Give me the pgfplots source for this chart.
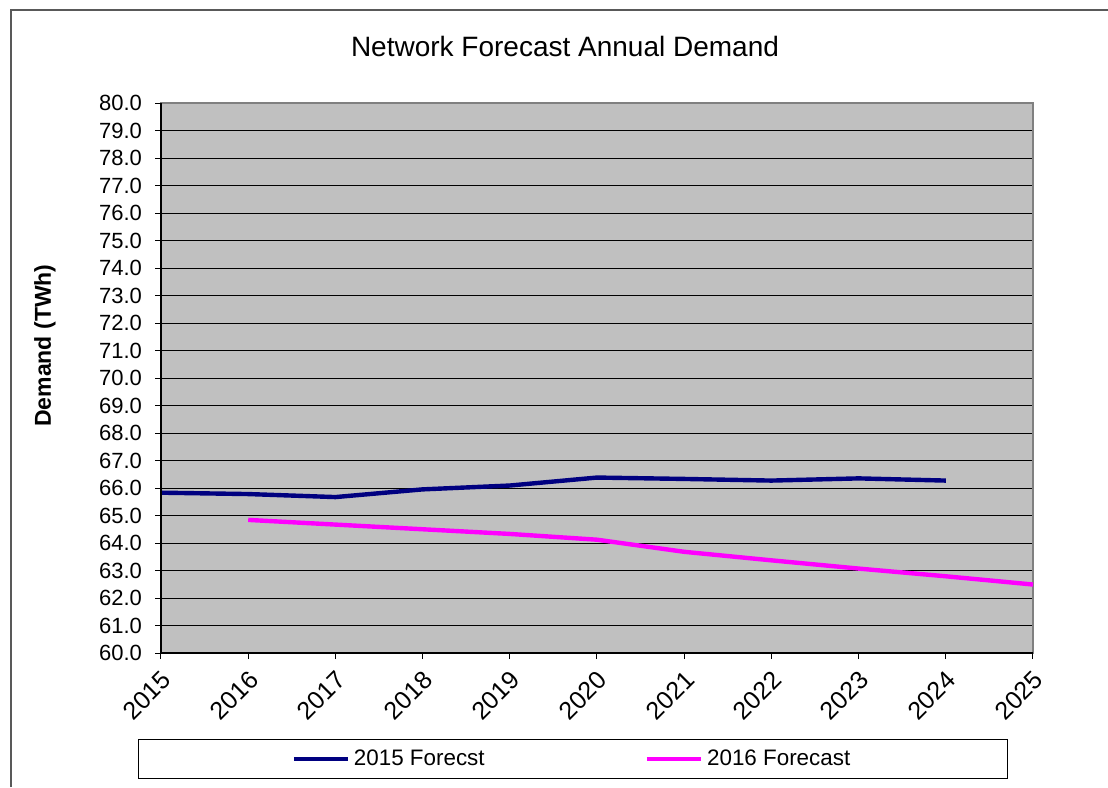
\documentclass[border=0pt]{standalone}
\usepackage{fontspec}
\setmainfont{Liberation Sans}
\usepackage{pgfplots}
\pgfplotsset{compat=1.18}
\definecolor{plotbg}{HTML}{C0C0C0}
\definecolor{navyline}{HTML}{000080}
\definecolor{magline}{HTML}{FF00FF}
\begin{document}
\begin{tikzpicture}
\useasboundingbox (0,0) rectangle (554pt,-393.5pt);
\draw[gray!70!black, line width=0.6pt] (5.5pt,-393.5pt) -- (5.5pt,-5pt) -- (554pt,-5pt);
\node[font=\fontsize{14}{16}\selectfont] at (282.5pt,-23pt) {Network Forecast Annual Demand};
\begin{axis}[
  at={(80.5pt,-51.5pt)}, anchor=north west,
  scale only axis, width=436pt, height=275pt,
  xmin=2015, xmax=2025, ymin=60, ymax=80,
  xtick distance=1, ytick distance=1,
  tick align=outside, major tick length=3pt,
  tick style={black, line width=0.5pt},
  xtick pos=bottom, ytick pos=left,
  /pgf/number format/assume math mode=true,
  xticklabel style={/pgf/number format/1000 sep={}, rotate=45, anchor=east, font=\fontsize{12.5}{14}\selectfont, xshift=-0.5pt, yshift=-8pt},
  yticklabel style={/pgf/number format/.cd, fixed, fixed zerofill, precision=1, /tikz/.cd, font=\fontsize{11}{13}\selectfont, xshift=-3pt},
  ymajorgrids, major grid style={black, line width=0.5pt},
  axis background/.style={fill=plotbg},
  axis line style={draw=gray, line width=1pt},
  ylabel={Demand (TWh)},
  ylabel style={at={(axis description cs:-0.133,0.559)}, anchor=center, font=\bfseries\fontsize{11.5}{13}\selectfont},
  legend columns=2,
  legend style={at={(axis description cs:0.4724,-0.1927)}, anchor=center, draw=black, line width=0.5pt, inner xsep=76.5pt, inner ysep=3pt, font=\fontsize{11.2}{13}\selectfont, /tikz/every even column/.append style={column sep=78pt}},
  legend image code/.code={\draw[#1, line width=2.2pt] (0pt,0pt) -- (27pt,0pt);},
  legend cell align=left,
  after end axis/.code={\draw[black, line width=0.6pt] (rel axis cs:0,1) -- (rel axis cs:0,0) -- (rel axis cs:1,0);},
]
\addplot[navyline, line width=2.2pt, line join=round] coordinates {
(2015,65.83) (2016,65.78) (2017,65.67) (2018,65.95) (2019,66.09) (2020,66.38) (2021,66.33) (2022,66.27) (2023,66.35) (2024,66.27)};
\addlegendentry{2015 Forecst}
\addplot[magline, line width=2.2pt, line join=round] coordinates {
(2016,64.84) (2017,64.67) (2018,64.50) (2019,64.33) (2020,64.12) (2021,63.68) (2022,63.37) (2023,63.07) (2024,62.79) (2025,62.49)};
\addlegendentry{2016 Forecast}
\end{axis}
\end{tikzpicture}
\end{document}
